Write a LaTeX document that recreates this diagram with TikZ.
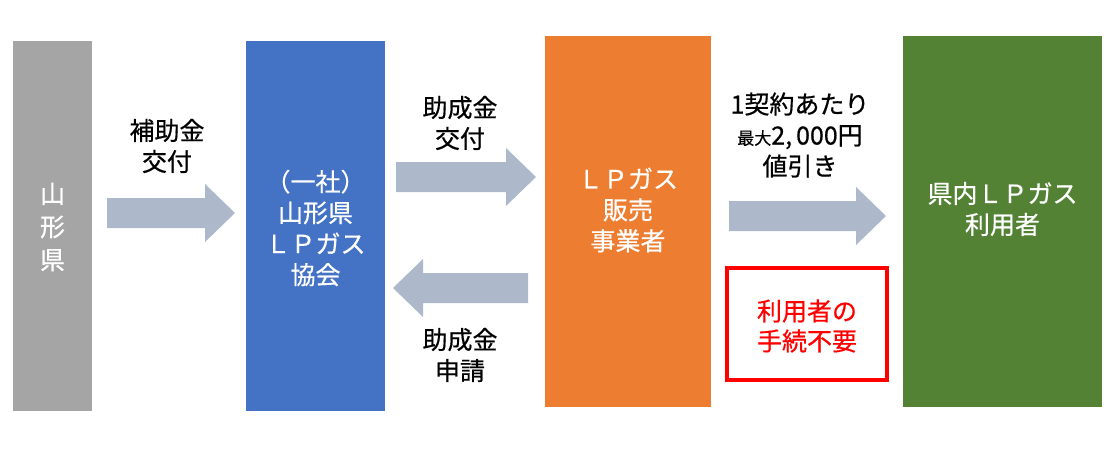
\documentclass[tikz,border=0pt]{standalone}
\usepackage{fontspec}
\setmainfont{Noto Sans CJK JP}[FakeBold=0.6]
\definecolor{cgray}{HTML}{A5A5A5}
\definecolor{cblue}{HTML}{4472C4}
\definecolor{corange}{HTML}{ED7D31}
\definecolor{cgreen}{HTML}{548235}
\definecolor{carrow}{HTML}{ADB9CA}
\definecolor{cred}{HTML}{FF0000}
\newcommand\blkarrow[3]{%
  \pgfmathsetmacro\hb{#2-30*sign(#2-#1)}%
  \fill[arrowfill] (#1,#3-15) -- (\hb,#3-15) -- (\hb,#3-29) -- (#2,#3) -- (\hb,#3+29) -- (\hb,#3+15) -- (#1,#3+15) -- cycle;}
\begin{document}
\begin{tikzpicture}[x=1pt,y=-1pt,
  box/.style={draw=none,inner sep=0pt,outer sep=0pt},
  arrowfill/.style={fill=carrow},
  txt/.style={align=center,inner sep=0pt,font=\fontsize{25}{31}\selectfont},
  wtxt/.style={txt,text=white}]
\useasboundingbox (0,0) rectangle (1112,458);
% boxes
\node[box,fill=cgray,minimum width=79pt,minimum height=370pt] (ken) at (52.5,226) {};
\node[box,fill=cblue,minimum width=139pt,minimum height=370pt] (kyokai) at (315.5,226) {};
\node[box,fill=corange,minimum width=166pt,minimum height=371pt] (hanbai) at (628,221.5) {};
\node[box,fill=cgreen,minimum width=199pt,minimum height=371pt] (riyo) at (1002.5,221.5) {};
\node[box,draw=cred,line width=4pt,minimum width=160pt,minimum height=112pt] (redbox) at (807,324) {};
% box texts
\node[wtxt,font=\fontsize{25}{33}\selectfont] (tken) at (52.5,227) {山\\形\\県};
\node[wtxt] (tkyokai) at (315.5,228) {（一社）\\山形県\\ＬＰガス\\協会};
\node[wtxt] (thanbai) at (628,210) {ＬＰガス\\販売\\事業者};
\node[wtxt] (triyo) at (1002.5,209) {県内ＬＰガス\\利用者};
\node[txt,text=cred,font=\fontsize{25}{30}\selectfont] (tred) at (807,326) {利用者の\\手続不要};
% arrows
\blkarrow{107}{235}{213}
\blkarrow{396}{536}{177}
\blkarrow{528}{393}{288}
\blkarrow{729}{886}{216}
% arrow labels
\node[txt] (l1) at (167,146) {補助金\\交付};
\node[txt] (l2) at (460,123) {助成金\\交付};
\node[txt] (l3) at (460,355) {助成金\\申請};
\node[txt] (l4) at (800,135) {1契約あたり\\{\fontsize{17}{31}\selectfont 最大}2,\kern4pt000円\\値引き};
\end{tikzpicture}
\end{document}
